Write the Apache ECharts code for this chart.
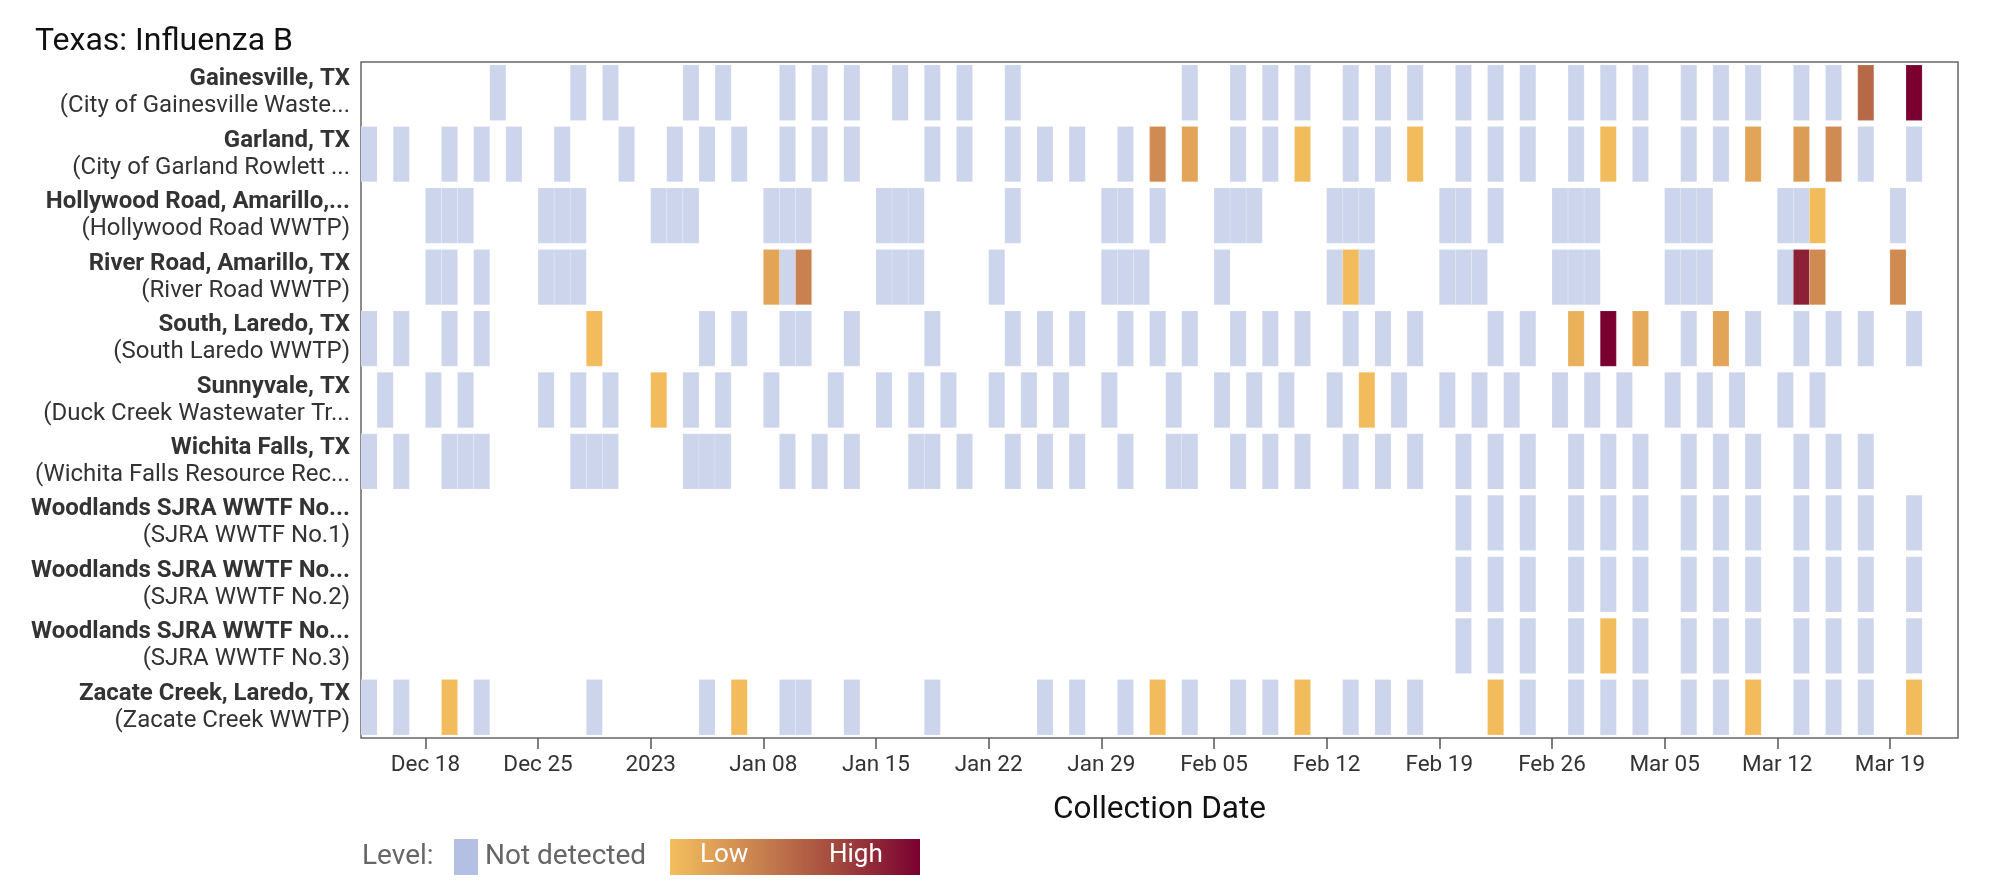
<!DOCTYPE html>
<html>
<head>
<meta charset="utf-8">
<title>Texas: Influenza B</title>
<script src="https://cdn.jsdelivr.net/npm/echarts@6.0.0/dist/echarts.min.js"></script>
<style>
  html, body { margin: 0; padding: 0; background: #fff; }
  #chart { width: 2000px; height: 881px; }
</style>
</head>
<body>
<div id="chart"></div>
<script>
// sites, top to bottom
const siteNames = [
  'Gainesville, TX', 'Garland, TX', 'Hollywood Road, Amarillo,...', 'River Road, Amarillo, TX',
  'South, Laredo, TX', 'Sunnyvale, TX', 'Wichita Falls, TX', 'Woodlands SJRA WWTF No...',
  'Woodlands SJRA WWTF No...', 'Woodlands SJRA WWTF No...', 'Zacate Creek, Laredo, TX'
];
const plantNames = [
  '(City of Gainesville Waste...', '(City of Garland Rowlett ...', '(Hollywood Road WWTP)', '(River Road WWTP)',
  '(South Laredo WWTP)', '(Duck Creek Wastewater Tr...', '(Wichita Falls Resource Rec...', '(SJRA WWTF No.1)',
  '(SJRA WWTF No.2)', '(SJRA WWTF No.3)', '(Zacate Creek WWTP)'
];

// x axis ticks
const tickDates = ['2022-12-18', '2022-12-25', '2023-01-01', '2023-01-08', '2023-01-15', '2023-01-22', '2023-01-29',
  '2023-02-05', '2023-02-12', '2023-02-19', '2023-02-26', '2023-03-05', '2023-03-12', '2023-03-19'];
const tickLabels = ['Dec 18', 'Dec 25', '2023', 'Jan 08', 'Jan 15', 'Jan 22', 'Jan 29',
  'Feb 05', 'Feb 12', 'Feb 19', 'Feb 26', 'Mar 05', 'Mar 12', 'Mar 19'];

// samples where nothing was detected
const gainesvilleND = ['2022-12-22', '2022-12-27', '2022-12-29', '2023-01-03', '2023-01-05', '2023-01-09', '2023-01-11',
  '2023-01-13', '2023-01-16', '2023-01-18', '2023-01-20', '2023-01-23', '2023-02-03', '2023-02-06', '2023-02-08',
  '2023-02-10', '2023-02-13', '2023-02-15', '2023-02-17', '2023-02-20', '2023-02-22', '2023-02-24', '2023-02-27',
  '2023-03-01', '2023-03-03', '2023-03-06', '2023-03-08', '2023-03-10', '2023-03-13', '2023-03-15'];
const garlandND = ['2022-12-14', '2022-12-16', '2022-12-19', '2022-12-21', '2022-12-23', '2022-12-26', '2022-12-30',
  '2023-01-02', '2023-01-04', '2023-01-06', '2023-01-09', '2023-01-11', '2023-01-13', '2023-01-18', '2023-01-20',
  '2023-01-23', '2023-01-25', '2023-01-27', '2023-01-30', '2023-02-06', '2023-02-08', '2023-02-13', '2023-02-15',
  '2023-02-20', '2023-02-22', '2023-02-24', '2023-02-27', '2023-03-03', '2023-03-06', '2023-03-08', '2023-03-17',
  '2023-03-20'];
const hollywoodND = ['2022-12-18', '2022-12-19', '2022-12-20', '2022-12-25', '2022-12-26', '2022-12-27', '2023-01-01',
  '2023-01-02', '2023-01-03', '2023-01-08', '2023-01-09', '2023-01-10', '2023-01-15', '2023-01-16', '2023-01-17',
  '2023-01-23', '2023-01-29', '2023-01-30', '2023-02-01', '2023-02-05', '2023-02-06', '2023-02-07', '2023-02-12',
  '2023-02-13', '2023-02-14', '2023-02-19', '2023-02-20', '2023-02-22', '2023-02-26', '2023-02-27', '2023-02-28',
  '2023-03-05', '2023-03-06', '2023-03-07', '2023-03-12', '2023-03-13', '2023-03-19'];
const riverRoadND = ['2022-12-18', '2022-12-19', '2022-12-21', '2022-12-25', '2022-12-26', '2022-12-27', '2023-01-09',
  '2023-01-15', '2023-01-16', '2023-01-17', '2023-01-22', '2023-01-29', '2023-01-30', '2023-01-31', '2023-02-05',
  '2023-02-12', '2023-02-14', '2023-02-19', '2023-02-20', '2023-02-21', '2023-02-26', '2023-02-27', '2023-02-28',
  '2023-03-05', '2023-03-06', '2023-03-07', '2023-03-12'];
const southLaredoND = ['2022-12-14', '2022-12-16', '2022-12-19', '2022-12-21', '2023-01-04', '2023-01-06', '2023-01-09',
  '2023-01-10', '2023-01-13', '2023-01-18', '2023-01-23', '2023-01-25', '2023-01-27', '2023-01-30', '2023-02-01',
  '2023-02-03', '2023-02-06', '2023-02-08', '2023-02-10', '2023-02-13', '2023-02-15', '2023-02-17', '2023-02-22',
  '2023-02-24', '2023-03-06', '2023-03-10', '2023-03-13', '2023-03-15', '2023-03-17', '2023-03-20'];
const sunnyvaleND = ['2022-12-15', '2022-12-18', '2022-12-20', '2022-12-25', '2022-12-27', '2022-12-29', '2023-01-03',
  '2023-01-05', '2023-01-08', '2023-01-12', '2023-01-15', '2023-01-17', '2023-01-19', '2023-01-22', '2023-01-24',
  '2023-01-26', '2023-01-29', '2023-02-02', '2023-02-05', '2023-02-07', '2023-02-09', '2023-02-12', '2023-02-16',
  '2023-02-19', '2023-02-21', '2023-02-23', '2023-02-26', '2023-02-28', '2023-03-02', '2023-03-05', '2023-03-07',
  '2023-03-09', '2023-03-12', '2023-03-14'];
const wichitaND = ['2022-12-14', '2022-12-16', '2022-12-19', '2022-12-20', '2022-12-21', '2022-12-27', '2022-12-28',
  '2022-12-29', '2023-01-03', '2023-01-04', '2023-01-05', '2023-01-09', '2023-01-11', '2023-01-13', '2023-01-17',
  '2023-01-18', '2023-01-20', '2023-01-23', '2023-01-25', '2023-01-27', '2023-01-30', '2023-02-02', '2023-02-03',
  '2023-02-06', '2023-02-08', '2023-02-10', '2023-02-13', '2023-02-15', '2023-02-17', '2023-02-20', '2023-02-22',
  '2023-02-24', '2023-02-27', '2023-03-01', '2023-03-03', '2023-03-06', '2023-03-08', '2023-03-10', '2023-03-13',
  '2023-03-15', '2023-03-17'];
const woodlands1ND = ['2023-02-20', '2023-02-22', '2023-02-24', '2023-02-27', '2023-03-01', '2023-03-03', '2023-03-06',
  '2023-03-08', '2023-03-10', '2023-03-13', '2023-03-15', '2023-03-17', '2023-03-20'];
const woodlands2ND = ['2023-02-20', '2023-02-22', '2023-02-24', '2023-02-27', '2023-03-01', '2023-03-03', '2023-03-06',
  '2023-03-08', '2023-03-10', '2023-03-13', '2023-03-15', '2023-03-17', '2023-03-20'];
const woodlands3ND = ['2023-02-20', '2023-02-22', '2023-02-24', '2023-02-27', '2023-03-03', '2023-03-06',
  '2023-03-08', '2023-03-10', '2023-03-13', '2023-03-15', '2023-03-17', '2023-03-20'];
const zacateND = ['2022-12-14', '2022-12-16', '2022-12-21', '2022-12-28', '2023-01-04', '2023-01-09', '2023-01-10',
  '2023-01-13', '2023-01-18', '2023-01-25', '2023-01-27', '2023-01-30', '2023-02-03', '2023-02-06', '2023-02-08',
  '2023-02-13', '2023-02-15', '2023-02-17', '2023-02-24', '2023-02-27', '2023-03-01', '2023-03-03', '2023-03-06',
  '2023-03-08', '2023-03-13', '2023-03-15', '2023-03-17'];

// detected samples: [date, level 0 = low .. 1 = high]
const gainesvilleDet = [['2023-03-17', 0.5], ['2023-03-20', 1.0]];
const garlandDet = [['2023-02-01', 0.3], ['2023-02-03', 0.15], ['2023-02-10', 0.02], ['2023-02-17', 0.02],
  ['2023-03-01', 0.02], ['2023-03-10', 0.15], ['2023-03-13', 0.2], ['2023-03-15', 0.3]];
const hollywoodDet = [['2023-03-14', 0.02]];
const riverRoadDet = [['2023-01-08', 0.15], ['2023-01-10', 0.35], ['2023-02-13', 0.02], ['2023-03-13', 0.85],
  ['2023-03-14', 0.3], ['2023-03-19', 0.3]];
const southLaredoDet = [['2022-12-28', 0.02], ['2023-02-27', 0.08], ['2023-03-01', 1.0], ['2023-03-03', 0.12],
  ['2023-03-08', 0.15]];
const sunnyvaleDet = [['2023-01-01', 0.02], ['2023-02-14', 0.02]];
const wichitaDet = [];
const woodlands1Det = [];
const woodlands2Det = [];
const woodlands3Det = [['2023-03-01', 0.02]];
const zacateDet = [['2022-12-19', 0.02], ['2023-01-06', 0.02], ['2023-02-01', 0.02], ['2023-02-10', 0.02],
  ['2023-02-22', 0.02], ['2023-03-10', 0.02], ['2023-03-20', 0.02]];

const ndRows = [gainesvilleND, garlandND, hollywoodND, riverRoadND, southLaredoND, sunnyvaleND, wichitaND,
  woodlands1ND, woodlands2ND, woodlands3ND, zacateND];
const detRows = [gainesvilleDet, garlandDet, hollywoodDet, riverRoadDet, southLaredoDet, sunnyvaleDet, wichitaDet,
  woodlands1Det, woodlands2Det, woodlands3Det, zacateDet];

const DAY = 86400000;
function dateOf(s) {
  const p = s.split('-').map(Number);
  return Date.UTC(p[0], p[1] - 1, p[2]);
}

const ndData = [];
ndRows.forEach((row, i) => row.forEach(d => ndData.push([dateOf(d), i])));
const detData = [];
detRows.forEach((row, i) => row.forEach(r => detData.push([dateOf(r[0]), i, r[1]])));

const tickTimes = tickDates.map(dateOf);
const lowHighColors = ['#f4bf5e', '#cb8550', '#a34a3e', '#7a0030'];

function renderTile(params, api) {
  const t = api.value(0);
  const row = api.value(1);
  const a = api.coord([t, row]);
  const b = api.coord([t + DAY, row]);
  const h = api.size([0, 1])[1] * 0.9;
  return {
    type: 'rect',
    shape: { x: a[0], y: a[1] - h / 2, width: b[0] - a[0], height: h },
    style: { fill: api.visual('color'), stroke: 'rgba(255,255,255,0.15)', lineWidth: 1 }
  };
}

const chart = echarts.init(document.getElementById('chart'));
const option = {
  animation: false,
  textStyle: { fontFamily: 'Roboto' },
  title: {
    text: 'Texas: Influenza B',
    left: 30,
    top: 21,
    textStyle: { fontFamily: 'Roboto', fontSize: 32, fontWeight: 'normal', color: '#111' }
  },
  grid: {
    left: 361, top: 62, right: 42, bottom: 143,
    show: true, borderColor: '#666', borderWidth: 1.5
  },
  xAxis: {
    // day timestamps on a plain value axis so the weekly ticks can be placed exactly
    type: 'value',
    min: dateOf('2022-12-14'),
    max: dateOf('2023-03-23') + 0.23 * DAY,
    name: 'Collection Date',
    nameLocation: 'middle',
    nameGap: 56,
    nameTextStyle: { fontFamily: 'Roboto', fontSize: 31.5, color: '#111' },
    axisLine: { show: false },
    splitLine: { show: false },
    axisTick: { show: true, length: 11, customValues: tickTimes, lineStyle: { color: '#555', width: 1.5 } },
    axisLabel: {
      customValues: tickTimes,
      margin: 16,
      fontFamily: 'Roboto',
      fontSize: 22.5,
      color: '#333',
      formatter: function (v) {
        const i = tickTimes.indexOf(v);
        return i >= 0 ? tickLabels[i] : '';
      }
    }
  },
  yAxis: {
    type: 'category',
    inverse: true,
    data: siteNames.map((s, i) => i),
    axisLine: { show: false },
    axisTick: { show: false },
    splitLine: { show: false },
    axisLabel: {
      margin: 11,
      formatter: function (v, i) {
        return '{b|' + siteNames[i] + '}\n{n|' + plantNames[i] + '}';
      },
      rich: {
        b: { fontFamily: 'Roboto', fontSize: 24, fontWeight: 'bold', color: '#333', lineHeight: 27, align: 'right' },
        n: { fontFamily: 'Roboto', fontSize: 24, color: '#333', lineHeight: 27, align: 'right' }
      }
    }
  },
  visualMap: {
    show: false,
    type: 'continuous',
    seriesIndex: 1,
    dimension: 2,
    min: 0,
    max: 1,
    inRange: { color: lowHighColors }
  },
  series: [
    {
      type: 'custom',
      name: 'Not detected',
      renderItem: renderTile,
      itemStyle: { color: '#cdd5ec' },
      encode: { x: 0, y: 1 },
      clip: true,
      data: ndData
    },
    {
      type: 'custom',
      name: 'Detected',
      renderItem: renderTile,
      encode: { x: 0, y: 1 },
      clip: true,
      data: detData
    }
  ],
  graphic: [
    { type: 'text', left: 362, top: 843, style: { text: 'Level:', fontFamily: 'Roboto', fontSize: 28, fill: '#666' } },
    { type: 'rect', left: 454, top: 839, shape: { width: 24, height: 36 }, style: { fill: '#b3c0e4' } },
    { type: 'text', left: 485, top: 843, style: { text: 'Not detected', fontFamily: 'Roboto', fontSize: 28, fill: '#666' } },
    {
      type: 'rect', left: 670, top: 839, shape: { width: 250, height: 36 },
      style: {
        fill: new echarts.graphic.LinearGradient(0, 0, 1, 0, [
          { offset: 0, color: lowHighColors[0] },
          { offset: 0.33, color: lowHighColors[1] },
          { offset: 0.66, color: lowHighColors[2] },
          { offset: 1, color: lowHighColors[3] }
        ])
      }
    },
    { type: 'text', left: 700, top: 842, style: { text: 'Low', fontFamily: 'Roboto', fontSize: 26, fill: '#fff' } },
    { type: 'text', left: 829, top: 842, style: { text: 'High', fontFamily: 'Roboto', fontSize: 26, fill: '#fff' } }
  ]
};
chart.setOption(option);
</script>
</body>
</html>
